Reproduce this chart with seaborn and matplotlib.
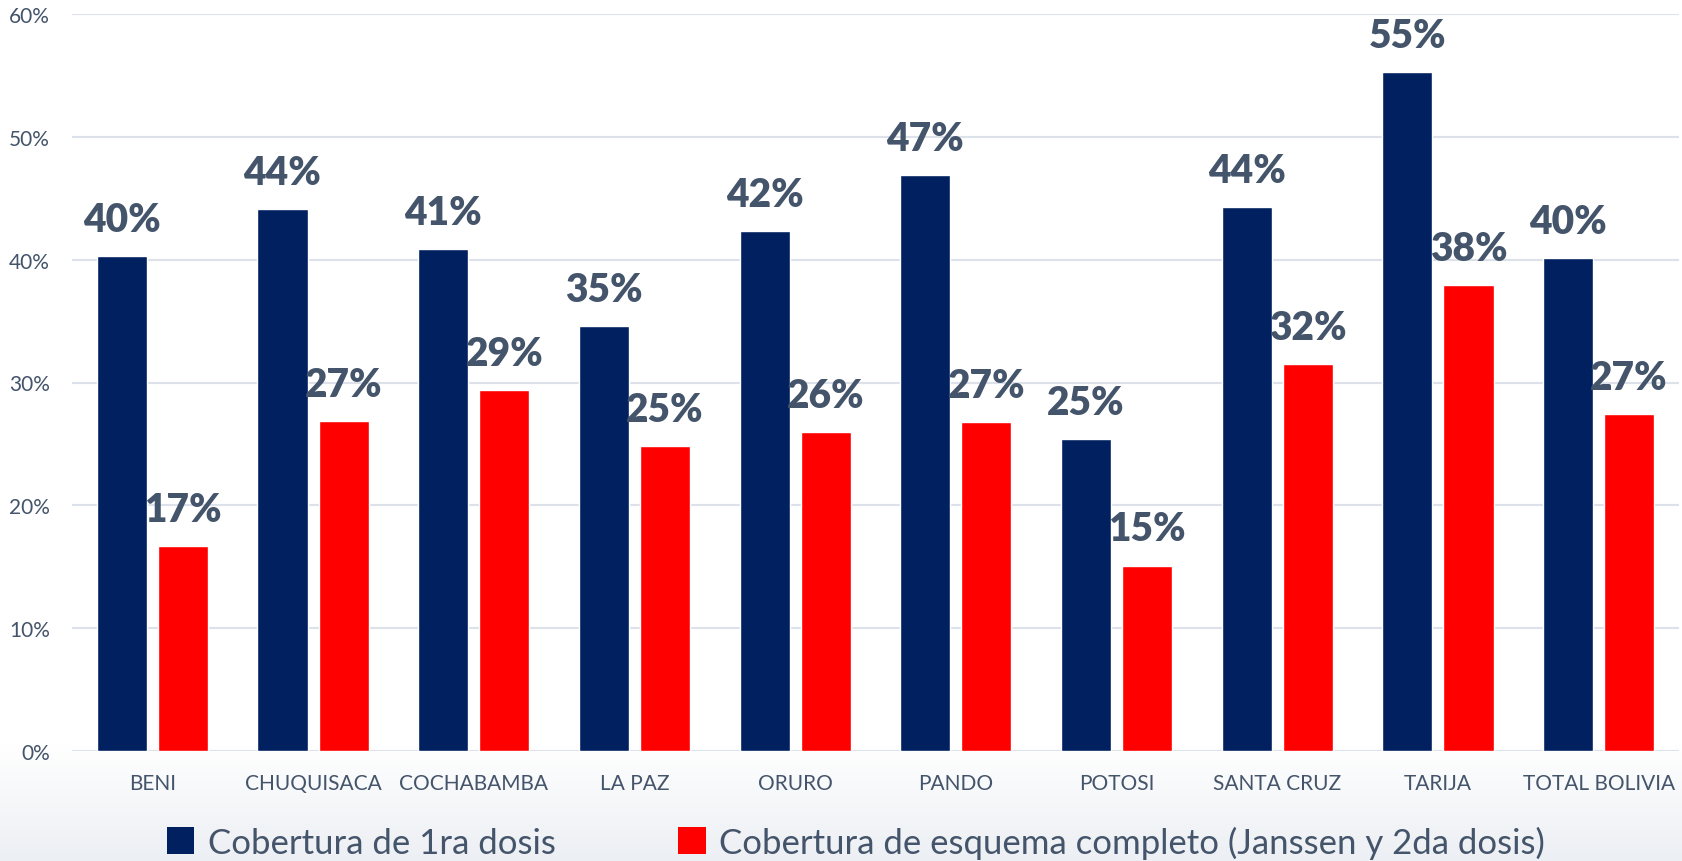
import numpy as np
import pandas as pd
import matplotlib
matplotlib.use('Agg')
import matplotlib.pyplot as plt
import seaborn as sns
from matplotlib.patches import Patch

# datos
departamentos = ['BENI', 'CHUQUISACA', 'COCHABAMBA', 'LA PAZ', 'ORURO',
                 'PANDO', 'POTOSI', 'SANTA CRUZ', 'TARIJA', 'TOTAL BOLIVIA']
primera_dosis = [40.3, 44.1, 40.9, 34.6, 42.3, 46.9, 25.4, 44.3, 55.3, 40.1]
esquema_completo = [16.7, 26.9, 29.4, 24.8, 26.0, 26.8, 15.1, 31.5, 37.9, 27.4]
series = ['Cobertura de 1ra dosis',
          'Cobertura de esquema completo (Janssen y 2da dosis)']
colores = ['#002060', '#FF0000']
yticks = [0, 10, 20, 30, 40, 50, 60]

df = pd.DataFrame({
    'departamento': departamentos * 2,
    'serie': [series[0]] * len(departamentos) + [series[1]] * len(departamentos),
    'valor': primera_dosis + esquema_completo,
})

sns.set_theme(style='white')
plt.rcParams['font.family'] = ['Lato', 'DejaVu Sans']
texto = '#44546A'

fig = plt.figure(figsize=(16.82, 8.62), dpi=100)

# fondo degradado abajo
bg = fig.add_axes([0, 0, 1, 1], zorder=-10)
h = 862
grad = np.ones((h, 1, 3))
inicio = 745
fin = np.array([0.925, 0.937, 0.955])
for i in range(inicio, h):
    t = (i - inicio) / (h - inicio)
    grad[i, 0, :] = 1 - t * (1 - fin)
bg.imshow(grad, aspect='auto', extent=[0, 1, 0, 1])
bg.axis('off')

ax = fig.add_axes([72 / 1682, 110 / 862, 1607 / 1682, 737 / 862])
ax.patch.set_alpha(0)
sns.barplot(data=df, x='departamento', y='valor', hue='serie',
            palette=colores, width=0.76, gap=0.18, ax=ax,
            saturation=1, legend=False, zorder=3)

for cont in ax.containers:
    ax.bar_label(cont, labels=[f'{round(v):.0f}%' for v in cont.datavalues],
                 padding=13, fontsize=28, fontweight='heavy', color=texto)

ax.set_ylim(0, 60)
ax.set_yticks(yticks)
ax.set_yticklabels([f'{v}%' for v in yticks])
ax.set_xlim(-0.5, len(departamentos) - 0.5)
ax.grid(axis='y', color='#DDE2EA', linewidth=1.5, zorder=0)
ax.set_axisbelow(True)
for s in ax.spines.values():
    s.set_visible(False)
ax.tick_params(axis='y', length=0, labelsize=15, labelcolor=texto, pad=16)
ax.tick_params(axis='x', length=0, labelsize=15, labelcolor=texto, pad=16)
ax.set_xlabel('')
ax.set_ylabel('')

handles = [Patch(facecolor=c, edgecolor='none') for c in colores]
fig.legend(handles, series, loc='center', bbox_to_anchor=(856 / 1682, 19 / 862),
           ncol=2, frameon=False, fontsize=25, labelcolor=texto,
           handlelength=0.8, handleheight=0.8, handletextpad=0.4,
           columnspacing=3.5)

fig.savefig('out.png', dpi=100)
